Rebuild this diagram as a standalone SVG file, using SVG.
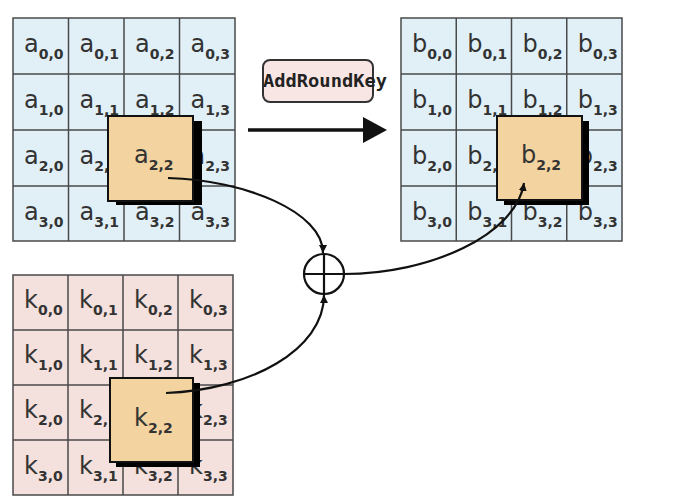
<svg xmlns="http://www.w3.org/2000/svg" width="690" height="500" viewBox="0 0 690 500">
<defs>
<style>
.bg{fill:#ffffff}
.cb{fill:#e1f0f7;stroke:#4a4a4a;stroke-width:1.5}
.cp{fill:#f4e0dc;stroke:#4a4a4a;stroke-width:1.5}
.hl{fill:#f3d3a0;stroke:#111;stroke-width:2}
.sh{fill:#000}
.m{font-family:"DejaVu Sans",sans-serif;font-size:24px;fill:#333}
.s{font-size:14px;font-weight:bold}
.con{fill:none;stroke:#111;stroke-width:2.2}
</style>
<marker id="ah" markerUnits="userSpaceOnUse" markerWidth="9" markerHeight="8" refX="8" refY="4" orient="auto">
<path d="M0,0 L8,4 L0,8 z" fill="#111"/>
</marker>
</defs>
<rect class="bg" x="0" y="0" width="690" height="500"/>

<g id="state-a">
<rect class="cb" x="13" y="18" width="222" height="223"/>
<path d="M68.5,18V241M124,18V241M179.5,18V241M13,74H235M13,130H235M13,186H235" stroke="#4a4a4a" stroke-width="1.5" fill="none"/>
<text class="m" x="24" y="52">a<tspan class="s" dy="7">0,0</tspan></text>
<text class="m" x="79.5" y="52">a<tspan class="s" dy="7">0,1</tspan></text>
<text class="m" x="135" y="52">a<tspan class="s" dy="7">0,2</tspan></text>
<text class="m" x="190.5" y="52">a<tspan class="s" dy="7">0,3</tspan></text>
<text class="m" x="24" y="108">a<tspan class="s" dy="7">1,0</tspan></text>
<text class="m" x="79.5" y="108">a<tspan class="s" dy="7">1,1</tspan></text>
<text class="m" x="135" y="108">a<tspan class="s" dy="7">1,2</tspan></text>
<text class="m" x="190.5" y="108">a<tspan class="s" dy="7">1,3</tspan></text>
<text class="m" x="24" y="164">a<tspan class="s" dy="7">2,0</tspan></text>
<text class="m" x="79.5" y="164">a<tspan class="s" dy="7">2,1</tspan></text>
<text class="m" x="190.5" y="164">a<tspan class="s" dy="7">2,3</tspan></text>
<text class="m" x="24" y="220">a<tspan class="s" dy="7">3,0</tspan></text>
<text class="m" x="79.5" y="220">a<tspan class="s" dy="7">3,1</tspan></text>
<text class="m" x="135" y="220">a<tspan class="s" dy="7">3,2</tspan></text>
<text class="m" x="190.5" y="220">a<tspan class="s" dy="7">3,3</tspan></text>
</g>

<g id="state-b">
<rect class="cb" x="401" y="18" width="221" height="223"/>
<path d="M456.25,18V241M511.5,18V241M566.75,18V241M401,74H622M401,130H622M401,186H622" stroke="#4a4a4a" stroke-width="1.5" fill="none"/>
<text class="m" x="412" y="52">b<tspan class="s" dy="7">0,0</tspan></text>
<text class="m" x="467.25" y="52">b<tspan class="s" dy="7">0,1</tspan></text>
<text class="m" x="522.5" y="52">b<tspan class="s" dy="7">0,2</tspan></text>
<text class="m" x="577.75" y="52">b<tspan class="s" dy="7">0,3</tspan></text>
<text class="m" x="412" y="108">b<tspan class="s" dy="7">1,0</tspan></text>
<text class="m" x="467.25" y="108">b<tspan class="s" dy="7">1,1</tspan></text>
<text class="m" x="522.5" y="108">b<tspan class="s" dy="7">1,2</tspan></text>
<text class="m" x="577.75" y="108">b<tspan class="s" dy="7">1,3</tspan></text>
<text class="m" x="412" y="164">b<tspan class="s" dy="7">2,0</tspan></text>
<text class="m" x="467.25" y="164">b<tspan class="s" dy="7">2,1</tspan></text>
<text class="m" x="577.75" y="164">b<tspan class="s" dy="7">2,3</tspan></text>
<text class="m" x="412" y="220">b<tspan class="s" dy="7">3,0</tspan></text>
<text class="m" x="467.25" y="220">b<tspan class="s" dy="7">3,1</tspan></text>
<text class="m" x="522.5" y="220">b<tspan class="s" dy="7">3,2</tspan></text>
<text class="m" x="577.75" y="220">b<tspan class="s" dy="7">3,3</tspan></text>
</g>

<g id="key-k">
<rect class="cp" x="13" y="275" width="220" height="220"/>
<path d="M68,275V495M123,275V495M178,275V495M13,330H233M13,385H233M13,440H233" stroke="#4a4a4a" stroke-width="1.5" fill="none"/>
<text class="m" x="24" y="308">k<tspan class="s" dy="7">0,0</tspan></text>
<text class="m" x="79" y="308">k<tspan class="s" dy="7">0,1</tspan></text>
<text class="m" x="134" y="308">k<tspan class="s" dy="7">0,2</tspan></text>
<text class="m" x="189" y="308">k<tspan class="s" dy="7">0,3</tspan></text>
<text class="m" x="24" y="363">k<tspan class="s" dy="7">1,0</tspan></text>
<text class="m" x="79" y="363">k<tspan class="s" dy="7">1,1</tspan></text>
<text class="m" x="134" y="363">k<tspan class="s" dy="7">1,2</tspan></text>
<text class="m" x="189" y="363">k<tspan class="s" dy="7">1,3</tspan></text>
<text class="m" x="24" y="418">k<tspan class="s" dy="7">2,0</tspan></text>
<text class="m" x="79" y="418">k<tspan class="s" dy="7">2,1</tspan></text>
<text class="m" x="189" y="418">k<tspan class="s" dy="7">2,3</tspan></text>
<text class="m" x="24" y="474">k<tspan class="s" dy="7">3,0</tspan></text>
<text class="m" x="79" y="474">k<tspan class="s" dy="7">3,1</tspan></text>
<text class="m" x="134" y="474">k<tspan class="s" dy="7">3,2</tspan></text>
<text class="m" x="189" y="474">k<tspan class="s" dy="7">3,3</tspan></text>
</g>

<g id="a22">
<rect class="sh" x="116" y="121" width="86" height="84"/>
<rect class="hl" x="108" y="116" width="85" height="85"/>
<text class="m" x="134" y="163">a<tspan class="s" dy="7">2,2</tspan></text>
</g>

<g id="b22">
<rect class="sh" x="504" y="121" width="85" height="84"/>
<rect class="hl" x="497" y="116" width="85" height="84"/>
<text class="m" x="521" y="163">b<tspan class="s" dy="7">2,2</tspan></text>
</g>

<g id="k22">
<rect class="sh" x="116" y="383" width="84" height="84"/>
<rect class="hl" x="110" y="378" width="83" height="84"/>
<text class="m" x="134" y="426">k<tspan class="s" dy="7">2,2</tspan></text>
</g>

<g id="label">
<rect x="263" y="60" width="110" height="42" rx="7" fill="#f8e6e4" stroke="#333" stroke-width="2"/>
<text x="263" y="87" font-family="'DejaVu Sans Mono',monospace" font-size="17" font-weight="bold" textLength="124" lengthAdjust="spacingAndGlyphs" fill="#222">AddRoundKey</text>
</g>

<g id="xor">
<circle cx="324" cy="274" r="20" fill="#fff" stroke="#111" stroke-width="2.2"/>
<path d="M304,274H344M324,254V294" stroke="#111" stroke-width="2.2"/>
</g>

<g id="connectors">
<path d="M248,130H365" stroke="#111" stroke-width="3.5"/>
<polygon points="363,117 387,130 363,143" fill="#111"/>
<path class="con" d="M168,178 C245,180 323,212 323,253" marker-end="url(#ah)"/>
<path class="con" d="M166,393 C250,390 324,350 324,295" marker-end="url(#ah)"/>
<path class="con" d="M344,274 C430,274 516,235 524,183" marker-end="url(#ah)"/>
</g>
</svg>
